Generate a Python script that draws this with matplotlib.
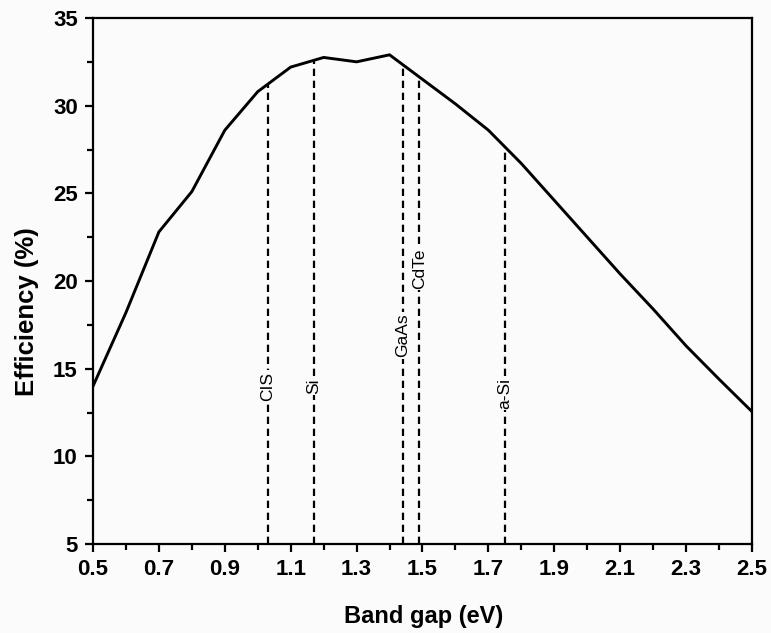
import numpy as np
import matplotlib
matplotlib.use("Agg")
import matplotlib.pyplot as plt
from matplotlib.ticker import MultipleLocator

# Data
band_gap = [0.5, 0.6, 0.7, 0.8, 0.9, 1.0, 1.1, 1.2, 1.3, 1.4, 1.5, 1.6, 1.7,
            1.8, 1.9, 2.0, 2.1, 2.2, 2.3, 2.4, 2.5]
efficiency = [14.0, 18.2, 22.8, 25.1, 28.6, 30.8, 32.2, 32.75, 32.5, 32.9, 31.5,
              30.1, 28.6, 26.7, 24.6, 22.5, 20.4, 18.4, 16.3, 14.4, 12.55]
materials = ["CIS", "Si", "GaAs", "CdTe", "a-Si"]
material_gap = [1.03, 1.17, 1.44, 1.49, 1.75]
label_y = [14.0, 14.0, 16.9, 20.7, 13.6]

plt.rcParams['font.family'] = ['Liberation Sans', 'DejaVu Sans']

fig = plt.figure(figsize=(7.71, 6.33), dpi=100)
fig.patch.set_facecolor('#fbfbfb')
ax = fig.add_axes([93/771, 1 - 544/633, (752-93)/771, (544-18)/633])
ax.set_facecolor('#fbfbfb')

ax.plot(band_gap, efficiency, color='black', lw=2.1, solid_joinstyle='miter')

for name, g, ly in zip(materials, material_gap, label_y):
    top = np.interp(g, band_gap, efficiency)
    ax.plot([g, g], [5, top], color='black', lw=1.6, linestyle=(0, (3.3, 2.1)))
    ax.text(g, ly, name, rotation=90, ha='center', va='center', fontsize=12.5,
            bbox=dict(facecolor='#fbfbfb', edgecolor='none', pad=1.0))

ax.set_xlim(0.5, 2.5)
ax.set_ylim(5, 35)
ax.xaxis.set_minor_locator(MultipleLocator(0.1))
ax.yaxis.set_major_locator(MultipleLocator(5))
ax.yaxis.set_minor_locator(MultipleLocator(2.5))
xt = np.arange(0.5, 2.51, 0.2)
ax.set_xticks(xt)
ax.set_xticklabels([f"{v:.1f}" for v in xt])

for s in ax.spines.values():
    s.set_linewidth(1.6)
ax.tick_params(which='major', direction='out', length=6, width=1.6, labelsize=16, pad=5)
ax.tick_params(which='minor', direction='out', length=4, width=1.6)
for lab in ax.get_xticklabels() + ax.get_yticklabels():
    lab.set_fontweight('bold')

ax.set_xlabel("Band gap (eV)", fontsize=17, fontweight='bold')
ax.set_ylabel("Efficiency (%)", fontsize=18.5, fontweight='bold')
ax.xaxis.set_label_coords(0.5015, -0.137)
ax.yaxis.set_label_coords(-0.100, 0.441)
for lab in [ax.xaxis.label, ax.yaxis.label]:
    lab.set_va('center')
    lab.set_ha('center')

fig.savefig("out.png", dpi=100, facecolor=fig.get_facecolor())
